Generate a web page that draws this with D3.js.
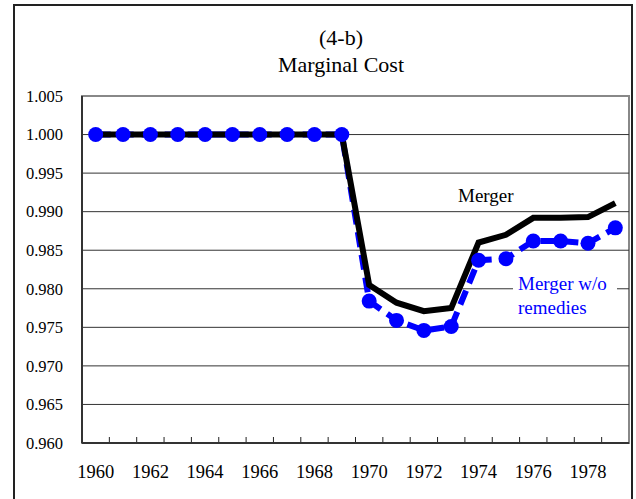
<!DOCTYPE html>
<html>
<head>
<meta charset="utf-8">
<script src="https://cdn.jsdelivr.net/npm/d3@7"></script>
<style>
  body { margin: 0; background: #fff; }
</style>
</head>
<body>
<div id="chart"></div>
<script>
let years = [1960, 1961, 1962, 1963, 1964, 1965, 1966, 1967, 1968, 1969,
  1970, 1971, 1972, 1973, 1974, 1975, 1976, 1977, 1978, 1979];
let merger = [1, 1, 1, 1, 1, 1, 1, 1, 1, 1,
  0.9805, 0.9782, 0.9771, 0.9775, 0.986, 0.987, 0.9892, 0.9892, 0.9893, 0.9911];
let mergerNoRemedies = [1, 1, 1, 1, 1, 1, 1, 1, 1, 1,
  0.9784, 0.9759, 0.9746, 0.9751, 0.9837, 0.9839, 0.9862, 0.9862, 0.9859, 0.9879];
let yTicks = [0.96, 0.965, 0.97, 0.975, 0.98, 0.985, 0.99, 0.995, 1.0, 1.005];
let xLabels = [1960, 1962, 1964, 1966, 1968, 1970, 1972, 1974, 1976, 1978];

const width = 636;
const height = 499;
const margin = { left: 82, right: 7, top: 96, bottom: 56 };
const plotW = width - margin.left - margin.right;
const plotH = height - margin.top - margin.bottom;
const serif = "Liberation Serif";

const svg = d3.select("#chart")
  .append("svg")
  .attr("width", width)
  .attr("height", height)
  .attr("font-family", serif);

// outer frame
svg.append("rect")
  .attr("x", 14).attr("y", 5)
  .attr("width", 618).attr("height", 520)
  .attr("fill", "none")
  .attr("stroke", "#222")
  .attr("stroke-width", 2);

svg.append("text")
  .attr("x", 341).attr("y", 45)
  .attr("text-anchor", "middle")
  .attr("font-family", serif)
  .attr("font-size", 22)
  .text("(4-b)");
svg.append("text")
  .attr("x", 341).attr("y", 72)
  .attr("text-anchor", "middle")
  .attr("font-family", serif)
  .attr("font-size", 22)
  .text("Marginal Cost");

const g = svg.append("g")
  .attr("transform", `translate(${margin.left}, ${margin.top})`);

let x = d3.scaleBand()
  .domain(years)
  .range([0, plotW]);
let y = d3.scaleLinear()
  .domain([0.96, 1.005])
  .range([plotH, 0]);

// plot frame (top / right grey)
g.append("rect")
  .attr("width", plotW).attr("height", plotH)
  .attr("fill", "none")
  .attr("stroke", "#888")
  .attr("stroke-width", 2);

// gridlines
g.selectAll(".grid")
  .data(yTicks.filter((d) => d > 0.96 && d < 1.005))
  .enter()
  .append("line")
  .attr("x1", 0).attr("x2", plotW)
  .attr("y1", (d) => y(d)).attr("y2", (d) => y(d))
  .attr("stroke", "#333")
  .attr("stroke-width", 1);

// y axis
const yAxis = g.append("g")
  .call(d3.axisLeft(y).tickValues(yTicks).tickFormat(d3.format(".3f")).tickSize(0).tickPadding(19));
yAxis.attr("font-family", serif).attr("font-size", 16.5);
yAxis.select(".domain").remove();
yAxis.selectAll("text").attr("font-family", serif).style("fill", "#000");

// x axis ticks at category boundaries
g.selectAll(".xtick")
  .data(years.slice(1))
  .enter()
  .append("line")
  .attr("x1", (d) => x(d)).attr("x2", (d) => x(d))
  .attr("y1", plotH).attr("y2", plotH - 6)
  .attr("stroke", "#222");

g.selectAll(".xlab")
  .data(xLabels)
  .enter()
  .append("text")
  .attr("x", (d) => x(d) + x.bandwidth() / 2)
  .attr("y", plotH + 35)
  .attr("text-anchor", "middle")
  .attr("font-family", serif)
  .attr("font-size", 18.5)
  .text((d) => d);

// left and bottom axis lines
g.append("line").attr("x1", 0).attr("x2", 0).attr("y1", 0).attr("y2", plotH)
  .attr("stroke", "#333").attr("stroke-width", 2);
g.append("line").attr("x1", 0).attr("x2", plotW).attr("y1", plotH).attr("y2", plotH)
  .attr("stroke", "#333").attr("stroke-width", 2);

const cx = (i) => x(years[i]) + x.bandwidth() / 2;

const lineM = d3.line().x((d, i) => cx(i)).y((d) => y(d));

g.append("path")
  .datum(mergerNoRemedies)
  .attr("d", lineM)
  .attr("fill", "none")
  .attr("stroke", "#0000ff")
  .attr("stroke-width", 6)
  .attr("stroke-dasharray", "15,8");

g.append("path")
  .datum(merger)
  .attr("d", lineM)
  .attr("fill", "none")
  .attr("stroke", "#000")
  .attr("stroke-width", 6)
  .attr("stroke-linejoin", "miter");

g.selectAll(".dot")
  .data(mergerNoRemedies)
  .enter()
  .append("circle")
  .attr("cx", (d, i) => cx(i))
  .attr("cy", (d) => y(d))
  .attr("r", 7.5)
  .attr("fill", "#0000ff");

// labels
g.append("text")
  .attr("x", 458 - margin.left).attr("y", 202 - margin.top)
  .attr("font-family", serif)
  .attr("font-size", 19)
  .text("Merger");

g.append("rect")
  .attr("x", 513 - margin.left).attr("y", 275 - margin.top)
  .attr("width", 104).attr("height", 45)
  .attr("fill", "#fff");
g.append("text")
  .attr("x", 518 - margin.left).attr("y", 290 - margin.top)
  .attr("font-family", serif)
  .attr("font-size", 19)
  .attr("fill", "#0000ff")
  .text("Merger w/o");
g.append("text")
  .attr("x", 518 - margin.left).attr("y", 314 - margin.top)
  .attr("font-family", serif)
  .attr("font-size", 19)
  .attr("fill", "#0000ff")
  .text("remedies");
</script>
</body>
</html>
